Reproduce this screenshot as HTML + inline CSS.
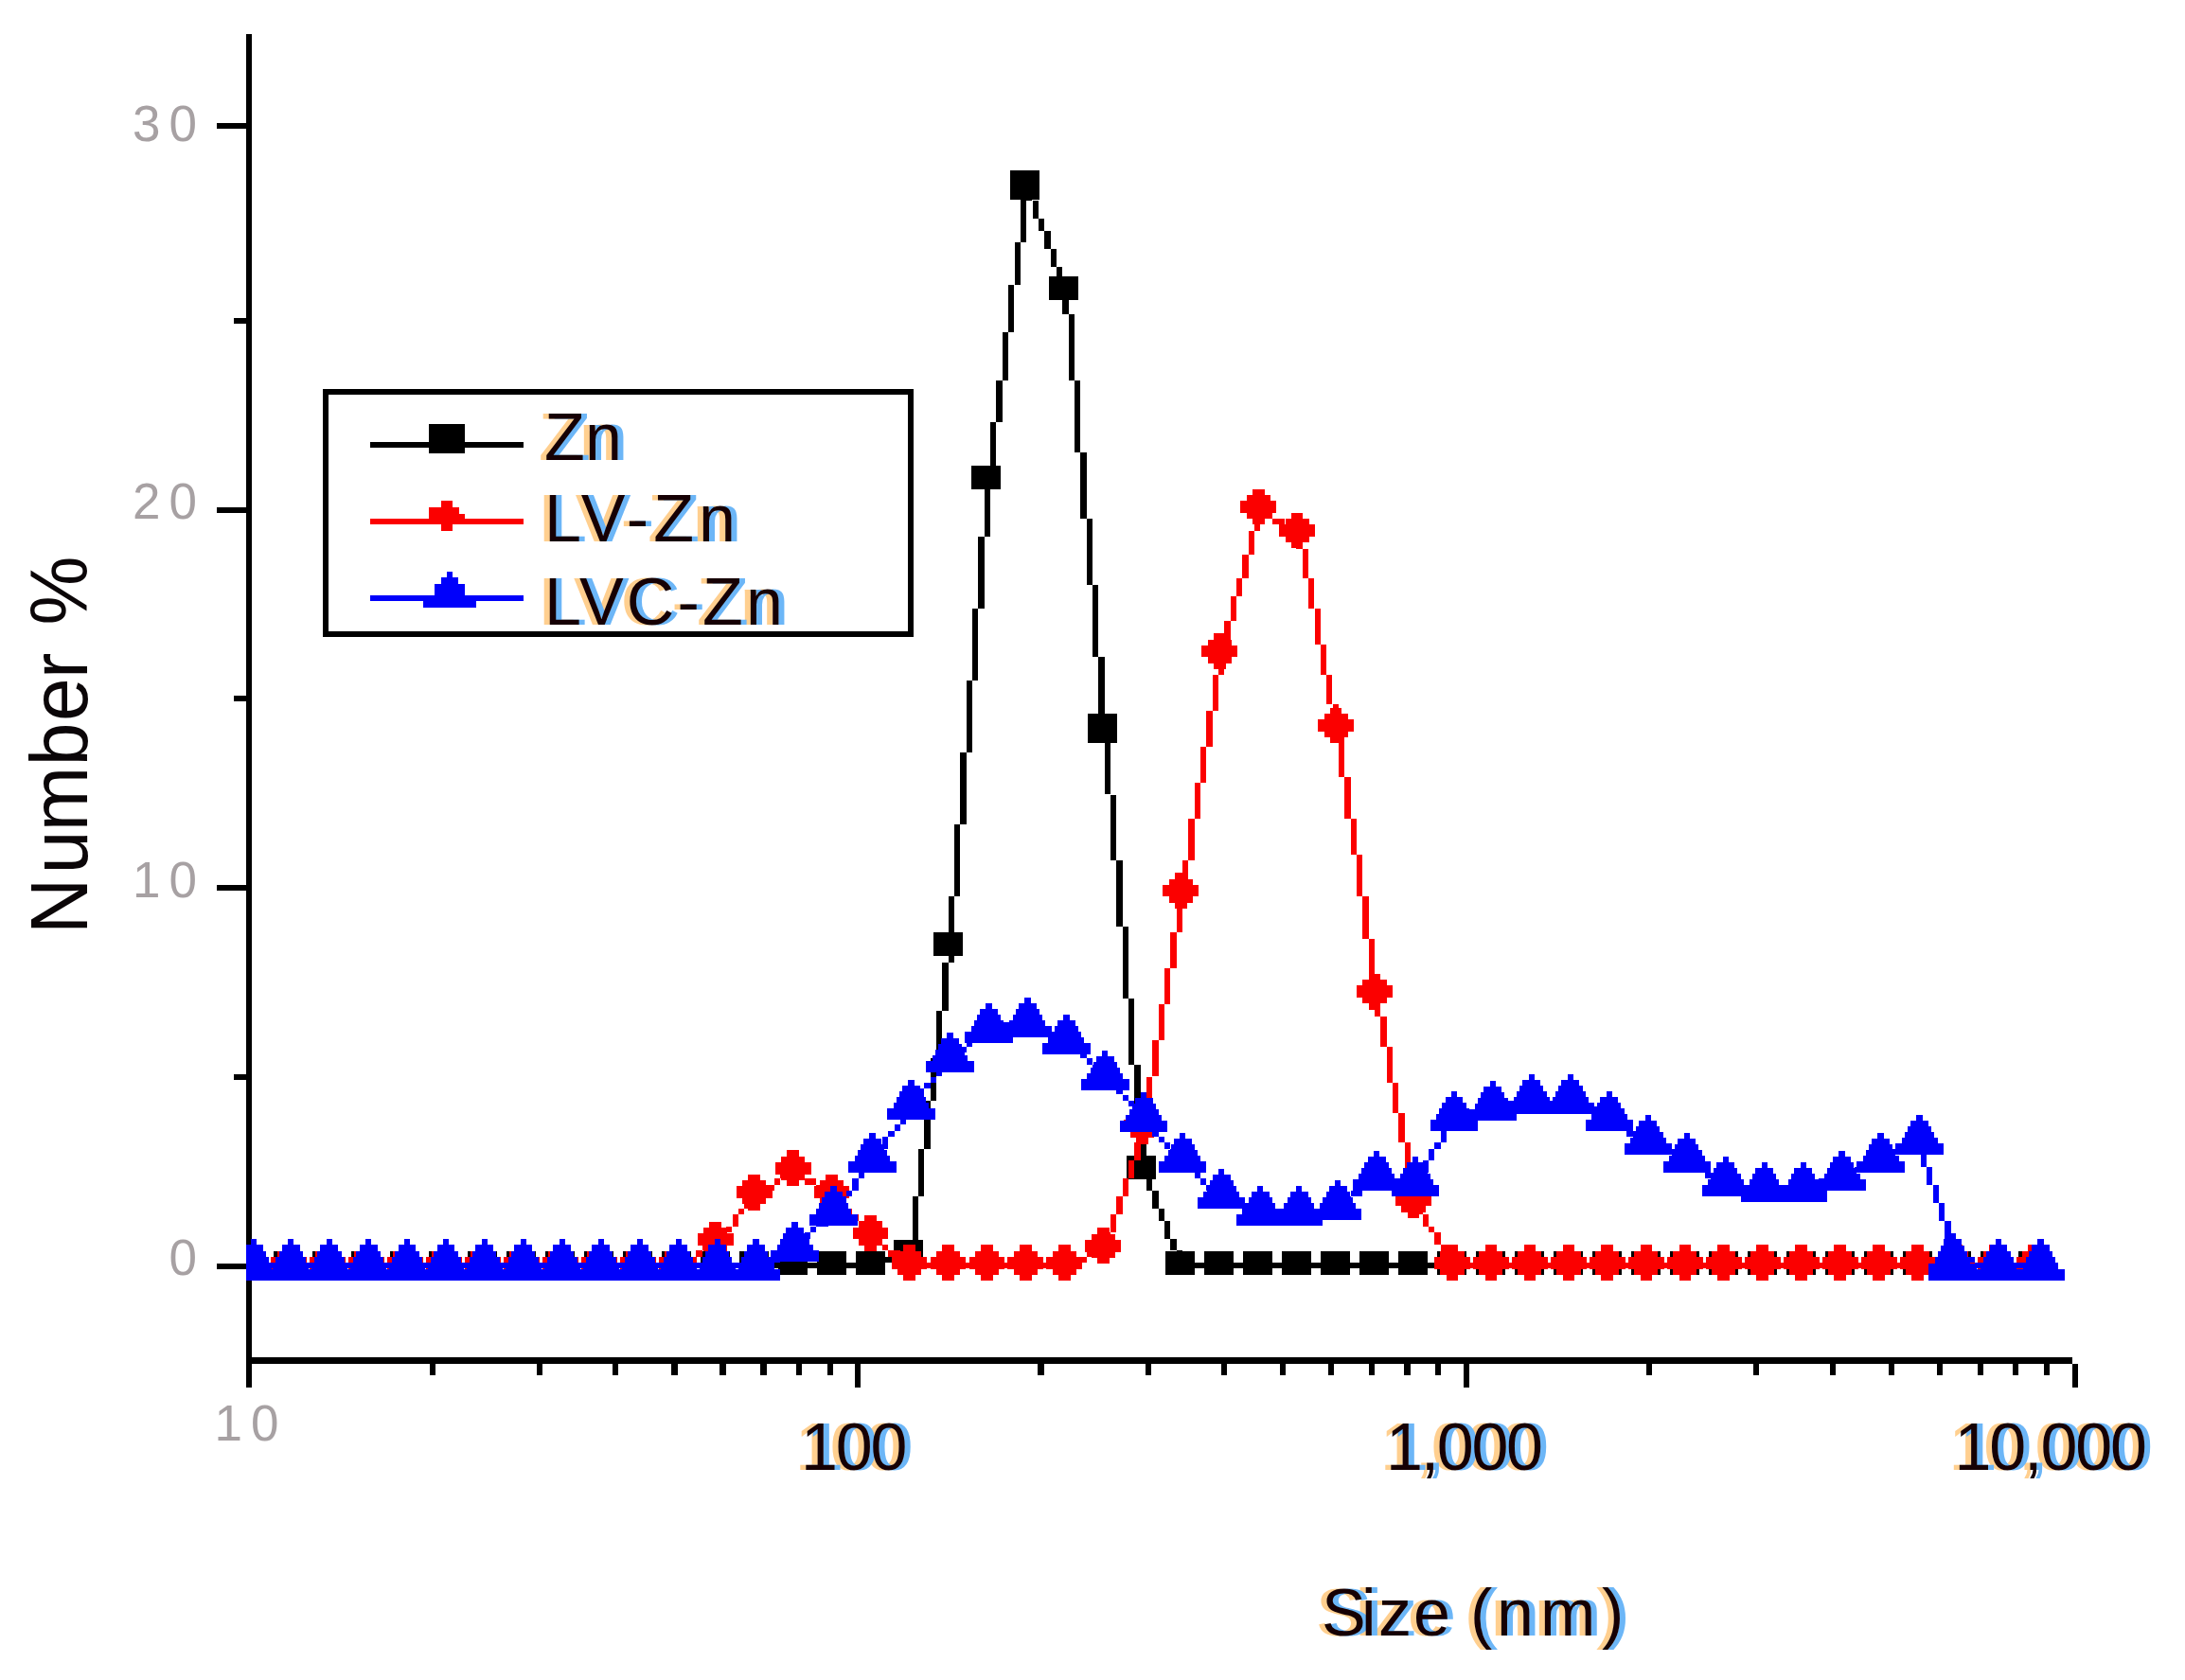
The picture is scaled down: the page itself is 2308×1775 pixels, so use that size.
<!DOCTYPE html>
<html lang="en"><head><meta charset="utf-8"><title>Size distribution by number</title>
<style>html,body{margin:0;padding:0;background:#fff}svg{display:block}text{font-family:"Liberation Sans",Arial,sans-serif}.g{fill:#a7a1a3;font-size:53px;letter-spacing:9px}.k{font-size:70px}</style></head><body>
<svg width="2308" height="1775" viewBox="0 0 2308 1775">
<rect width="2308" height="1775" fill="#fff"/>
<clipPath id="plot"><rect x="260" y="0" width="2048" height="1434"/></clipPath>
<g fill="#000" shape-rendering="crispEdges">
<rect x="260" y="35.7" width="6.2" height="1430.3"/>
<rect x="260" y="1434.4" width="1928.6" height="6.4"/>
<rect x="229" y="129.5" width="31" height="6.4"/>
<rect x="229" y="535.8" width="31" height="6.4"/>
<rect x="229" y="934.8" width="31" height="6.4"/>
<rect x="229" y="1334.5" width="31" height="6.4"/>
<rect x="247" y="335.5" width="13" height="6.4"/>
<rect x="247" y="734.8" width="13" height="6.4"/>
<rect x="247" y="1134.6" width="13" height="6.4"/>
<rect x="453.7" y="1440.8" width="6.2" height="12.4"/>
<rect x="566.8" y="1440.8" width="6.2" height="12.4"/>
<rect x="647.1" y="1440.8" width="6.2" height="12.4"/>
<rect x="709.4" y="1440.8" width="6.2" height="12.4"/>
<rect x="760.3" y="1440.8" width="6.2" height="12.4"/>
<rect x="803.3" y="1440.8" width="6.2" height="12.4"/>
<rect x="840.6" y="1440.8" width="6.2" height="12.4"/>
<rect x="873.5" y="1440.8" width="6.2" height="12.4"/>
<rect x="1096.4" y="1440.8" width="6.2" height="12.4"/>
<rect x="1209.5" y="1440.8" width="6.2" height="12.4"/>
<rect x="1289.8" y="1440.8" width="6.2" height="12.4"/>
<rect x="1352.1" y="1440.8" width="6.2" height="12.4"/>
<rect x="1403" y="1440.8" width="6.2" height="12.4"/>
<rect x="1446" y="1440.8" width="6.2" height="12.4"/>
<rect x="1483.3" y="1440.8" width="6.2" height="12.4"/>
<rect x="1516.2" y="1440.8" width="6.2" height="12.4"/>
<rect x="1739.1" y="1440.8" width="6.2" height="12.4"/>
<rect x="1852.2" y="1440.8" width="6.2" height="12.4"/>
<rect x="1932.5" y="1440.8" width="6.2" height="12.4"/>
<rect x="1994.8" y="1440.8" width="6.2" height="12.4"/>
<rect x="2045.7" y="1440.8" width="6.2" height="12.4"/>
<rect x="2088.7" y="1440.8" width="6.2" height="12.4"/>
<rect x="2126" y="1440.8" width="6.2" height="12.4"/>
<rect x="2158.9" y="1440.8" width="6.2" height="12.4"/>
<rect x="902.9" y="1440.8" width="6.2" height="25.2"/>
<rect x="1545.7" y="1440.8" width="6.2" height="25.2"/>
<rect x="2188.6" y="1440.8" width="6.2" height="25.2"/>
</g>
<g clip-path="url(#plot)" shape-rendering="crispEdges">
<path fill="#000" d="M259.9 1334h50.7v6.3h-50.7zM304.3 1334h44.4v6.3h-44.4zM342.4 1334h50.7v6.3h-50.7zM386.7 1334h44.4v6.3h-44.4zM424.8 1334h50.7v6.3h-50.7zM469.2 1334h44.4v6.3h-44.4zM507.2 1334h50.7v6.3h-50.7zM551.6 1334h44.4v6.3h-44.4zM589.6 1334h50.7v6.3h-50.7zM634 1334h44.4v6.3h-44.4zM672 1334h50.7v6.3h-50.7zM716.4 1334h44.4v6.3h-44.4zM754.5 1334h44.4v6.3h-44.4zM792.5 1334h50.7v6.3h-50.7zM836.9 1334h44.4v6.3h-44.4zM874.9 1334h50.7v6.3h-50.7zM919.3 1334h12.7v6.3h-12.7zM932 1327.7h25.4v6.3h-25.4zM957.3 1321.3h6.3v6.3h-6.3zM957.3 1315h6.3v12.7h-6.3zM963.7 1264.3h6.3v50.7h-6.3zM970 1213.5h6.3v50.7h-6.3zM976.4 1162.8h6.3v50.7h-6.3zM982.7 1118.4h6.3v44.4h-6.3zM989 1067.7h6.3v50.7h-6.3zM995.4 1017h6.3v50.7h-6.3zM1001.7 998h6.3v19h-6.3zM1001.7 947.3h6.3v57.1h-6.3zM1008.1 871.2h6.3v76.1h-6.3zM1014.4 795.1h6.3v76.1h-6.3zM1020.7 719h6.3v76.1h-6.3zM1027.1 642.9h6.3v76.1h-6.3zM1033.4 566.9h6.3v76.1h-6.3zM1039.8 503.5h6.3v63.4h-6.3zM1039.8 497.1h6.3v12.7h-6.3zM1046.1 446.4h6.3v50.7h-6.3zM1052.4 402h6.3v44.4h-6.3zM1058.8 351.3h6.3v50.7h-6.3zM1065.1 300.6h6.3v50.7h-6.3zM1071.5 256.2h6.3v44.4h-6.3zM1077.8 205.5h6.3v50.7h-6.3zM1084.1 192.8h6.3v12.7h-6.3zM1084.1 192.8h6.3v19h-6.3zM1090.5 211.8h6.3v19h-6.3zM1096.8 230.8h6.3v12.7h-6.3zM1103.2 243.5h6.3v19h-6.3zM1109.5 262.5h6.3v19h-6.3zM1115.8 281.6h6.3v12.7h-6.3zM1122.2 294.2h6.3v19h-6.3zM1122.2 306.9h6.3v25.4h-6.3zM1128.5 332.3h6.3v69.7h-6.3zM1134.9 402h6.3v76.1h-6.3zM1141.2 478.1h6.3v69.7h-6.3zM1147.5 547.8h6.3v69.7h-6.3zM1153.9 617.6h6.3v76.1h-6.3zM1160.2 693.7h6.3v69.7h-6.3zM1166.6 763.4h6.3v12.7h-6.3zM1166.6 769.7h6.3v69.7h-6.3zM1172.9 839.5h6.3v69.7h-6.3zM1179.2 909.2h6.3v69.7h-6.3zM1185.6 979h6.3v76.1h-6.3zM1191.9 1055h6.3v69.7h-6.3zM1198.3 1124.8h6.3v69.7h-6.3zM1204.6 1194.5h6.3v44.4h-6.3zM1204.6 1232.6h6.3v12.7h-6.3zM1210.9 1245.2h6.3v12.7h-6.3zM1217.3 1257.9h6.3v19h-6.3zM1223.6 1276.9h6.3v12.7h-6.3zM1230 1289.6h6.3v19h-6.3zM1236.3 1308.6h6.3v12.7h-6.3zM1242.6 1321.3h6.3v12.7h-6.3zM1249 1334h6.3v6.3h-6.3zM1249 1334h44.4v6.3h-44.4zM1287 1334h44.4v6.3h-44.4zM1325.1 1334h50.7v6.3h-50.7zM1369.4 1334h44.4v6.3h-44.4zM1407.5 1334h50.7v6.3h-50.7zM1451.9 1334h44.4v6.3h-44.4zM1489.9 1334h50.7v6.3h-50.7zM1534.3 1334h44.4v6.3h-44.4zM1572.3 1334h50.7v6.3h-50.7zM1616.7 1334h44.4v6.3h-44.4zM1654.7 1334h50.7v6.3h-50.7zM1699.1 1334h44.4v6.3h-44.4zM1737.2 1334h50.7v6.3h-50.7zM1781.5 1334h44.4v6.3h-44.4zM1819.6 1334h44.4v6.3h-44.4zM1857.6 1334h50.7v6.3h-50.7zM1902 1334h44.4v6.3h-44.4zM1940 1334h50.7v6.3h-50.7zM1984.4 1334h44.4v6.3h-44.4zM2022.5 1334h50.7v6.3h-50.7zM2066.8 1334h44.4v6.3h-44.4zM2104.9 1334h50.7v6.3h-50.7z"/>
<rect fill="#000" x="245.3" y="1321.7" width="31" height="25"/>
<rect fill="#000" x="289.1" y="1321.7" width="31" height="25"/>
<rect fill="#000" x="329.9" y="1321.7" width="31" height="25"/>
<rect fill="#000" x="371" y="1321.7" width="31" height="25"/>
<rect fill="#000" x="412" y="1321.7" width="31" height="25"/>
<rect fill="#000" x="452.9" y="1321.7" width="31" height="25"/>
<rect fill="#000" x="493.8" y="1321.7" width="31" height="25"/>
<rect fill="#000" x="534.8" y="1321.7" width="31" height="25"/>
<rect fill="#000" x="575.7" y="1321.7" width="31" height="25"/>
<rect fill="#000" x="616.7" y="1321.7" width="31" height="25"/>
<rect fill="#000" x="657.7" y="1321.7" width="31" height="25"/>
<rect fill="#000" x="698.7" y="1321.7" width="31" height="25"/>
<rect fill="#000" x="739.6" y="1321.7" width="31" height="25"/>
<rect fill="#000" x="780.6" y="1321.7" width="31" height="25"/>
<rect fill="#000" x="821.6" y="1321.7" width="31" height="25"/>
<rect fill="#000" x="862.5" y="1321.7" width="31" height="25"/>
<rect fill="#000" x="903.5" y="1321.7" width="31" height="25"/>
<rect fill="#000" x="944.4" y="1309.7" width="31" height="25"/>
<rect fill="#000" x="985.5" y="985.2" width="31" height="25"/>
<rect fill="#000" x="1026.4" y="492" width="31" height="25"/>
<rect fill="#000" x="1067.3" y="179.8" width="31" height="31"/>
<rect fill="#000" x="1108.3" y="291.6" width="31" height="25"/>
<rect fill="#000" x="1149.3" y="754.1" width="31" height="31"/>
<rect fill="#000" x="1190.2" y="1221.3" width="31" height="25"/>
<rect fill="#000" x="1231.2" y="1321.7" width="31" height="25"/>
<rect fill="#000" x="1272.2" y="1321.7" width="31" height="25"/>
<rect fill="#000" x="1313.2" y="1321.7" width="31" height="25"/>
<rect fill="#000" x="1354.1" y="1321.7" width="31" height="25"/>
<rect fill="#000" x="1395.1" y="1321.7" width="31" height="25"/>
<rect fill="#000" x="1436" y="1321.7" width="31" height="25"/>
<rect fill="#000" x="1477" y="1321.7" width="31" height="25"/>
<rect fill="#000" x="1518" y="1321.7" width="31" height="25"/>
<rect fill="#000" x="1558.8" y="1321.7" width="31" height="25"/>
<rect fill="#000" x="1599.8" y="1321.7" width="31" height="25"/>
<rect fill="#000" x="1640.9" y="1321.7" width="31" height="25"/>
<rect fill="#000" x="1681.7" y="1321.7" width="31" height="25"/>
<rect fill="#000" x="1722.8" y="1321.7" width="31" height="25"/>
<rect fill="#000" x="1763.8" y="1321.7" width="31" height="25"/>
<rect fill="#000" x="1804.7" y="1321.7" width="31" height="25"/>
<rect fill="#000" x="1845.7" y="1321.7" width="31" height="25"/>
<rect fill="#000" x="1886.7" y="1321.7" width="31" height="25"/>
<rect fill="#000" x="1927.6" y="1321.7" width="31" height="25"/>
<rect fill="#000" x="1968.6" y="1321.7" width="31" height="25"/>
<rect fill="#000" x="2009.6" y="1321.7" width="31" height="25"/>
<rect fill="#000" x="2050.5" y="1321.7" width="31" height="25"/>
<rect fill="#000" x="2091.5" y="1321.7" width="31" height="25"/>
<rect fill="#000" x="2132.4" y="1321.7" width="31" height="25"/>
<path fill="#fb0000" d="M259.9 1334h50.7v6.3h-50.7zM304.3 1334h44.4v6.3h-44.4zM342.4 1334h50.7v6.3h-50.7zM386.7 1334h44.4v6.3h-44.4zM424.8 1334h50.7v6.3h-50.7zM469.2 1334h44.4v6.3h-44.4zM507.2 1334h50.7v6.3h-50.7zM551.6 1334h44.4v6.3h-44.4zM589.6 1334h50.7v6.3h-50.7zM634 1334h44.4v6.3h-44.4zM672 1334h50.7v6.3h-50.7zM716.4 1334h6.3v6.3h-6.3zM722.8 1327.7h12.7v6.3h-12.7zM735.4 1321.3h6.3v6.3h-6.3zM741.8 1315h12.7v6.3h-12.7zM754.5 1308.6h6.3v6.3h-6.3zM754.5 1308.6h6.3v6.3h-6.3zM760.8 1302.3h6.3v6.3h-6.3zM767.1 1296h6.3v6.3h-6.3zM773.5 1283.3h6.3v12.7h-6.3zM779.8 1276.9h6.3v6.3h-6.3zM786.2 1270.6h6.3v6.3h-6.3zM792.5 1257.9h6.3v12.7h-6.3zM792.5 1257.9h12.7v6.3h-12.7zM805.2 1251.6h12.7v6.3h-12.7zM817.9 1245.2h6.3v6.3h-6.3zM824.2 1238.9h12.7v6.3h-12.7zM836.9 1232.6h6.3v6.3h-6.3zM836.9 1232.6h6.3v6.3h-6.3zM843.2 1238.9h6.3v6.3h-6.3zM849.6 1245.2h12.7v6.3h-12.7zM862.2 1251.6h12.7v6.3h-12.7zM874.9 1257.9h6.3v6.3h-6.3zM874.9 1257.9h6.3v6.3h-6.3zM881.3 1264.3h6.3v6.3h-6.3zM887.6 1270.6h6.3v6.3h-6.3zM893.9 1276.9h6.3v6.3h-6.3zM900.3 1283.3h6.3v6.3h-6.3zM906.6 1289.6h6.3v6.3h-6.3zM913 1296h6.3v6.3h-6.3zM919.3 1302.3h6.3v6.3h-6.3zM919.3 1302.3h6.3v6.3h-6.3zM925.6 1308.6h6.3v6.3h-6.3zM932 1315h6.3v6.3h-6.3zM938.3 1321.3h12.7v6.3h-12.7zM951 1327.7h6.3v6.3h-6.3zM957.3 1334h6.3v6.3h-6.3zM957.3 1334h50.7v6.3h-50.7zM1001.7 1334h44.4v6.3h-44.4zM1039.8 1334h50.7v6.3h-50.7zM1084.1 1334h44.4v6.3h-44.4zM1122.2 1334h12.7v6.3h-12.7zM1134.9 1327.7h12.7v6.3h-12.7zM1147.5 1321.3h19v6.3h-19zM1166.6 1315h6.3v6.3h-6.3zM1166.6 1302.3h6.3v19h-6.3zM1172.9 1283.3h6.3v19h-6.3zM1179.2 1264.3h6.3v19h-6.3zM1185.6 1245.2h6.3v19h-6.3zM1191.9 1226.2h6.3v19h-6.3zM1198.3 1207.2h6.3v19h-6.3zM1204.6 1188.2h6.3v19h-6.3zM1204.6 1175.5h6.3v19h-6.3zM1210.9 1137.5h6.3v38h-6.3zM1217.3 1099.4h6.3v38h-6.3zM1223.6 1061.4h6.3v38h-6.3zM1230 1023.3h6.3v38h-6.3zM1236.3 985.3h6.3v38h-6.3zM1242.6 947.3h6.3v38h-6.3zM1249 940.9h6.3v6.3h-6.3zM1249 909.2h6.3v38h-6.3zM1255.3 864.8h6.3v44.4h-6.3zM1261.7 826.8h6.3v38h-6.3zM1268 788.8h6.3v38h-6.3zM1274.3 750.7h6.3v38h-6.3zM1280.7 712.7h6.3v38h-6.3zM1287 687.3h6.3v25.4h-6.3zM1287 681h6.3v12.7h-6.3zM1293.4 655.6h6.3v25.4h-6.3zM1299.7 630.3h6.3v25.4h-6.3zM1306 611.2h6.3v19h-6.3zM1312.4 585.9h6.3v25.4h-6.3zM1318.7 560.5h6.3v25.4h-6.3zM1325.1 535.2h6.3v25.4h-6.3zM1325.1 535.2h12.7v6.3h-12.7zM1337.7 541.5h6.3v6.3h-6.3zM1344.1 547.8h12.7v6.3h-12.7zM1356.8 554.2h12.7v6.3h-12.7zM1369.4 560.5h6.3v6.3h-6.3zM1369.4 560.5h6.3v19h-6.3zM1375.8 579.5h6.3v31.7h-6.3zM1382.1 611.2h6.3v31.7h-6.3zM1388.5 642.9h6.3v38h-6.3zM1394.8 681h6.3v31.7h-6.3zM1401.1 712.7h6.3v31.7h-6.3zM1407.5 744.4h6.3v31.7h-6.3zM1407.5 769.7h6.3v6.3h-6.3zM1413.8 776.1h6.3v44.4h-6.3zM1420.2 820.5h6.3v44.4h-6.3zM1426.5 864.8h6.3v38h-6.3zM1432.8 902.9h6.3v44.4h-6.3zM1439.2 947.3h6.3v44.4h-6.3zM1445.5 991.6h6.3v44.4h-6.3zM1451.9 1036h6.3v19h-6.3zM1451.9 1048.7h6.3v25.4h-6.3zM1458.2 1074.1h6.3v31.7h-6.3zM1464.5 1105.8h6.3v38h-6.3zM1470.9 1143.8h6.3v31.7h-6.3zM1477.2 1175.5h6.3v31.7h-6.3zM1483.6 1207.2h6.3v38h-6.3zM1489.9 1245.2h6.3v31.7h-6.3zM1496.2 1270.6h6.3v12.7h-6.3zM1502.6 1283.3h6.3v12.7h-6.3zM1508.9 1296h6.3v6.3h-6.3zM1515.3 1302.3h6.3v12.7h-6.3zM1521.6 1315h6.3v12.7h-6.3zM1527.9 1327.7h6.3v6.3h-6.3zM1534.3 1334h6.3v6.3h-6.3zM1534.3 1334h44.4v6.3h-44.4zM1572.3 1334h50.7v6.3h-50.7zM1616.7 1334h44.4v6.3h-44.4zM1654.7 1334h50.7v6.3h-50.7zM1699.1 1334h44.4v6.3h-44.4zM1737.2 1334h50.7v6.3h-50.7zM1781.5 1334h44.4v6.3h-44.4zM1819.6 1334h44.4v6.3h-44.4zM1857.6 1334h50.7v6.3h-50.7zM1902 1334h44.4v6.3h-44.4zM1940 1334h50.7v6.3h-50.7zM1984.4 1334h44.4v6.3h-44.4zM2022.5 1334h50.7v6.3h-50.7zM2066.8 1334h44.4v6.3h-44.4zM2104.9 1334h50.7v6.3h-50.7z"/>
<polygon fill="#fb0000" points="267.6,1315.4 267.6,1321.7 273.9,1321.7 273.9,1328 280.2,1328 280.2,1334.3 280.2,1334.3 280.2,1340.6 273.9,1340.6 273.9,1346.9 267.6,1346.9 267.6,1353.2 255,1353.2 255,1346.9 248.7,1346.9 248.7,1340.6 242.4,1340.6 242.4,1334.3 242.4,1334.3 242.4,1328 248.7,1328 248.7,1321.7 255,1321.7 255,1315.4"/>
<polygon fill="#fb0000" points="311.4,1315.4 311.4,1321.7 317.7,1321.7 317.7,1328 324,1328 324,1334.3 324,1334.3 324,1340.6 317.7,1340.6 317.7,1346.9 311.4,1346.9 311.4,1353.2 298.8,1353.2 298.8,1346.9 292.5,1346.9 292.5,1340.6 286.2,1340.6 286.2,1334.3 286.2,1334.3 286.2,1328 292.5,1328 292.5,1321.7 298.8,1321.7 298.8,1315.4"/>
<polygon fill="#fb0000" points="352.2,1315.4 352.2,1321.7 358.5,1321.7 358.5,1328 364.8,1328 364.8,1334.3 364.8,1334.3 364.8,1340.6 358.5,1340.6 358.5,1346.9 352.2,1346.9 352.2,1353.2 339.6,1353.2 339.6,1346.9 333.3,1346.9 333.3,1340.6 327,1340.6 327,1334.3 327,1334.3 327,1328 333.3,1328 333.3,1321.7 339.6,1321.7 339.6,1315.4"/>
<polygon fill="#fb0000" points="393.3,1315.4 393.3,1321.7 399.6,1321.7 399.6,1328 405.9,1328 405.9,1334.3 405.9,1334.3 405.9,1340.6 399.6,1340.6 399.6,1346.9 393.3,1346.9 393.3,1353.2 380.7,1353.2 380.7,1346.9 374.4,1346.9 374.4,1340.6 368.1,1340.6 368.1,1334.3 368.1,1334.3 368.1,1328 374.4,1328 374.4,1321.7 380.7,1321.7 380.7,1315.4"/>
<polygon fill="#fb0000" points="434.3,1315.4 434.3,1321.7 440.6,1321.7 440.6,1328 446.9,1328 446.9,1334.3 446.9,1334.3 446.9,1340.6 440.6,1340.6 440.6,1346.9 434.3,1346.9 434.3,1353.2 421.7,1353.2 421.7,1346.9 415.4,1346.9 415.4,1340.6 409.1,1340.6 409.1,1334.3 409.1,1334.3 409.1,1328 415.4,1328 415.4,1321.7 421.7,1321.7 421.7,1315.4"/>
<polygon fill="#fb0000" points="475.2,1315.4 475.2,1321.7 481.5,1321.7 481.5,1328 487.8,1328 487.8,1334.3 487.8,1334.3 487.8,1340.6 481.5,1340.6 481.5,1346.9 475.2,1346.9 475.2,1353.2 462.6,1353.2 462.6,1346.9 456.3,1346.9 456.3,1340.6 450,1340.6 450,1334.3 450,1334.3 450,1328 456.3,1328 456.3,1321.7 462.6,1321.7 462.6,1315.4"/>
<polygon fill="#fb0000" points="516.1,1315.4 516.1,1321.7 522.4,1321.7 522.4,1328 528.7,1328 528.7,1334.3 528.7,1334.3 528.7,1340.6 522.4,1340.6 522.4,1346.9 516.1,1346.9 516.1,1353.2 503.5,1353.2 503.5,1346.9 497.2,1346.9 497.2,1340.6 490.9,1340.6 490.9,1334.3 490.9,1334.3 490.9,1328 497.2,1328 497.2,1321.7 503.5,1321.7 503.5,1315.4"/>
<polygon fill="#fb0000" points="557.1,1315.4 557.1,1321.7 563.4,1321.7 563.4,1328 569.7,1328 569.7,1334.3 569.7,1334.3 569.7,1340.6 563.4,1340.6 563.4,1346.9 557.1,1346.9 557.1,1353.2 544.5,1353.2 544.5,1346.9 538.2,1346.9 538.2,1340.6 531.9,1340.6 531.9,1334.3 531.9,1334.3 531.9,1328 538.2,1328 538.2,1321.7 544.5,1321.7 544.5,1315.4"/>
<polygon fill="#fb0000" points="598,1315.4 598,1321.7 604.3,1321.7 604.3,1328 610.6,1328 610.6,1334.3 610.6,1334.3 610.6,1340.6 604.3,1340.6 604.3,1346.9 598,1346.9 598,1353.2 585.4,1353.2 585.4,1346.9 579.1,1346.9 579.1,1340.6 572.8,1340.6 572.8,1334.3 572.8,1334.3 572.8,1328 579.1,1328 579.1,1321.7 585.4,1321.7 585.4,1315.4"/>
<polygon fill="#fb0000" points="639,1315.4 639,1321.7 645.3,1321.7 645.3,1328 651.6,1328 651.6,1334.3 651.6,1334.3 651.6,1340.6 645.3,1340.6 645.3,1346.9 639,1346.9 639,1353.2 626.4,1353.2 626.4,1346.9 620.1,1346.9 620.1,1340.6 613.8,1340.6 613.8,1334.3 613.8,1334.3 613.8,1328 620.1,1328 620.1,1321.7 626.4,1321.7 626.4,1315.4"/>
<polygon fill="#fb0000" points="680,1315.4 680,1321.7 686.3,1321.7 686.3,1328 692.6,1328 692.6,1334.3 692.6,1334.3 692.6,1340.6 686.3,1340.6 686.3,1346.9 680,1346.9 680,1353.2 667.4,1353.2 667.4,1346.9 661.1,1346.9 661.1,1340.6 654.8,1340.6 654.8,1334.3 654.8,1334.3 654.8,1328 661.1,1328 661.1,1321.7 667.4,1321.7 667.4,1315.4"/>
<polygon fill="#fb0000" points="721,1315.4 721,1321.7 727.3,1321.7 727.3,1328 733.6,1328 733.6,1334.3 733.6,1334.3 733.6,1340.6 727.3,1340.6 727.3,1346.9 721,1346.9 721,1353.2 708.4,1353.2 708.4,1346.9 702.1,1346.9 702.1,1340.6 695.8,1340.6 695.8,1334.3 695.8,1334.3 695.8,1328 702.1,1328 702.1,1321.7 708.4,1321.7 708.4,1315.4"/>
<polygon fill="#fb0000" points="761.9,1290.5 761.9,1296.8 768.2,1296.8 768.2,1303.1 774.5,1303.1 774.5,1309.4 774.5,1309.4 774.5,1315.7 768.2,1315.7 768.2,1322 761.9,1322 761.9,1328.3 749.3,1328.3 749.3,1322 743,1322 743,1315.7 736.7,1315.7 736.7,1309.4 736.7,1309.4 736.7,1303.1 743,1303.1 743,1296.8 749.3,1296.8 749.3,1290.5"/>
<polygon fill="#fb0000" points="802.9,1240.7 802.9,1247 809.2,1247 809.2,1253.3 815.5,1253.3 815.5,1259.6 815.5,1259.6 815.5,1265.9 809.2,1265.9 809.2,1272.2 802.9,1272.2 802.9,1278.5 790.3,1278.5 790.3,1272.2 784,1272.2 784,1265.9 777.7,1265.9 777.7,1259.6 777.7,1259.6 777.7,1253.3 784,1253.3 784,1247 790.3,1247 790.3,1240.7"/>
<polygon fill="#fb0000" points="843.9,1215.4 843.9,1221.7 850.2,1221.7 850.2,1228 856.5,1228 856.5,1234.3 856.5,1234.3 856.5,1240.6 850.2,1240.6 850.2,1246.9 843.9,1246.9 843.9,1253.2 831.3,1253.2 831.3,1246.9 825,1246.9 825,1240.6 818.7,1240.6 818.7,1234.3 818.7,1234.3 818.7,1228 825,1228 825,1221.7 831.3,1221.7 831.3,1215.4"/>
<polygon fill="#fb0000" points="884.8,1240.7 884.8,1247 891.1,1247 891.1,1253.3 897.4,1253.3 897.4,1259.6 897.4,1259.6 897.4,1265.9 891.1,1265.9 891.1,1272.2 884.8,1272.2 884.8,1278.5 872.2,1278.5 872.2,1272.2 865.9,1272.2 865.9,1265.9 859.6,1265.9 859.6,1259.6 859.6,1259.6 859.6,1253.3 865.9,1253.3 865.9,1247 872.2,1247 872.2,1240.7"/>
<polygon fill="#fb0000" points="925.8,1284.1 925.8,1290.4 932.1,1290.4 932.1,1296.7 938.4,1296.7 938.4,1303 938.4,1303 938.4,1309.3 932.1,1309.3 932.1,1315.6 925.8,1315.6 925.8,1321.9 913.2,1321.9 913.2,1315.6 906.9,1315.6 906.9,1309.3 900.6,1309.3 900.6,1303 900.6,1303 900.6,1296.7 906.9,1296.7 906.9,1290.4 913.2,1290.4 913.2,1284.1"/>
<polygon fill="#fb0000" points="966.7,1315.4 966.7,1321.7 973,1321.7 973,1328 979.3,1328 979.3,1334.3 979.3,1334.3 979.3,1340.6 973,1340.6 973,1346.9 966.7,1346.9 966.7,1353.2 954.1,1353.2 954.1,1346.9 947.8,1346.9 947.8,1340.6 941.5,1340.6 941.5,1334.3 941.5,1334.3 941.5,1328 947.8,1328 947.8,1321.7 954.1,1321.7 954.1,1315.4"/>
<polygon fill="#fb0000" points="1007.8,1315.4 1007.8,1321.7 1014.1,1321.7 1014.1,1328 1020.4,1328 1020.4,1334.3 1020.4,1334.3 1020.4,1340.6 1014.1,1340.6 1014.1,1346.9 1007.8,1346.9 1007.8,1353.2 995.2,1353.2 995.2,1346.9 988.9,1346.9 988.9,1340.6 982.6,1340.6 982.6,1334.3 982.6,1334.3 982.6,1328 988.9,1328 988.9,1321.7 995.2,1321.7 995.2,1315.4"/>
<polygon fill="#fb0000" points="1048.7,1315.4 1048.7,1321.7 1055,1321.7 1055,1328 1061.3,1328 1061.3,1334.3 1061.3,1334.3 1061.3,1340.6 1055,1340.6 1055,1346.9 1048.7,1346.9 1048.7,1353.2 1036.1,1353.2 1036.1,1346.9 1029.8,1346.9 1029.8,1340.6 1023.5,1340.6 1023.5,1334.3 1023.5,1334.3 1023.5,1328 1029.8,1328 1029.8,1321.7 1036.1,1321.7 1036.1,1315.4"/>
<polygon fill="#fb0000" points="1089.6,1315.4 1089.6,1321.7 1095.9,1321.7 1095.9,1328 1102.2,1328 1102.2,1334.3 1102.2,1334.3 1102.2,1340.6 1095.9,1340.6 1095.9,1346.9 1089.6,1346.9 1089.6,1353.2 1077,1353.2 1077,1346.9 1070.7,1346.9 1070.7,1340.6 1064.4,1340.6 1064.4,1334.3 1064.4,1334.3 1064.4,1328 1070.7,1328 1070.7,1321.7 1077,1321.7 1077,1315.4"/>
<polygon fill="#fb0000" points="1130.6,1315.4 1130.6,1321.7 1136.9,1321.7 1136.9,1328 1143.2,1328 1143.2,1334.3 1143.2,1334.3 1143.2,1340.6 1136.9,1340.6 1136.9,1346.9 1130.6,1346.9 1130.6,1353.2 1118,1353.2 1118,1346.9 1111.7,1346.9 1111.7,1340.6 1105.4,1340.6 1105.4,1334.3 1105.4,1334.3 1105.4,1328 1111.7,1328 1111.7,1321.7 1118,1321.7 1118,1315.4"/>
<polygon fill="#fb0000" points="1171.6,1297.3 1171.6,1303.6 1177.9,1303.6 1177.9,1309.9 1184.2,1309.9 1184.2,1316.2 1184.2,1316.2 1184.2,1322.5 1177.9,1322.5 1177.9,1328.8 1171.6,1328.8 1171.6,1335.1 1159,1335.1 1159,1328.8 1152.7,1328.8 1152.7,1322.5 1146.4,1322.5 1146.4,1316.2 1146.4,1316.2 1146.4,1309.9 1152.7,1309.9 1152.7,1303.6 1159,1303.6 1159,1297.3"/>
<polygon fill="#fb0000" points="1212.5,1170.8 1212.5,1177.1 1218.8,1177.1 1218.8,1183.4 1225.1,1183.4 1225.1,1189.7 1225.1,1189.7 1225.1,1196 1218.8,1196 1218.8,1202.3 1212.5,1202.3 1212.5,1208.6 1199.9,1208.6 1199.9,1202.3 1193.6,1202.3 1193.6,1196 1187.3,1196 1187.3,1189.7 1187.3,1189.7 1187.3,1183.4 1193.6,1183.4 1193.6,1177.1 1199.9,1177.1 1199.9,1170.8"/>
<polygon fill="#fb0000" points="1253.5,922.2 1253.5,928.5 1259.8,928.5 1259.8,934.8 1266.1,934.8 1266.1,941.1 1266.1,941.1 1266.1,947.4 1259.8,947.4 1259.8,953.7 1253.5,953.7 1253.5,960 1240.9,960 1240.9,953.7 1234.6,953.7 1234.6,947.4 1228.3,947.4 1228.3,941.1 1228.3,941.1 1228.3,934.8 1234.6,934.8 1234.6,928.5 1240.9,928.5 1240.9,922.2"/>
<polygon fill="#fb0000" points="1294.5,669.2 1294.5,675.5 1300.8,675.5 1300.8,681.8 1307.1,681.8 1307.1,688.1 1307.1,688.1 1307.1,694.4 1300.8,694.4 1300.8,700.7 1294.5,700.7 1294.5,707 1281.9,707 1281.9,700.7 1275.6,700.7 1275.6,694.4 1269.3,694.4 1269.3,688.1 1269.3,688.1 1269.3,681.8 1275.6,681.8 1275.6,675.5 1281.9,675.5 1281.9,669.2"/>
<polygon fill="#fb0000" points="1335.5,516.6 1335.5,522.9 1341.8,522.9 1341.8,529.2 1348.1,529.2 1348.1,535.5 1348.1,535.5 1348.1,541.8 1341.8,541.8 1341.8,548.1 1335.5,548.1 1335.5,554.4 1322.9,554.4 1322.9,548.1 1316.6,548.1 1316.6,541.8 1310.3,541.8 1310.3,535.5 1310.3,535.5 1310.3,529.2 1316.6,529.2 1316.6,522.9 1322.9,522.9 1322.9,516.6"/>
<polygon fill="#fb0000" points="1376.4,541.5 1376.4,547.8 1382.7,547.8 1382.7,554.1 1389,554.1 1389,560.4 1389,560.4 1389,566.7 1382.7,566.7 1382.7,573 1376.4,573 1376.4,579.3 1363.8,579.3 1363.8,573 1357.5,573 1357.5,566.7 1351.2,566.7 1351.2,560.4 1351.2,560.4 1351.2,554.1 1357.5,554.1 1357.5,547.8 1363.8,547.8 1363.8,541.5"/>
<polygon fill="#fb0000" points="1417.4,747.5 1417.4,753.8 1423.7,753.8 1423.7,760.1 1430,760.1 1430,766.4 1430,766.4 1430,772.7 1423.7,772.7 1423.7,779 1417.4,779 1417.4,785.3 1404.8,785.3 1404.8,779 1398.5,779 1398.5,772.7 1392.2,772.7 1392.2,766.4 1392.2,766.4 1392.2,760.1 1398.5,760.1 1398.5,753.8 1404.8,753.8 1404.8,747.5"/>
<polygon fill="#fb0000" points="1458.3,1028.7 1458.3,1035 1464.6,1035 1464.6,1041.3 1470.9,1041.3 1470.9,1047.6 1470.9,1047.6 1470.9,1053.9 1464.6,1053.9 1464.6,1060.2 1458.3,1060.2 1458.3,1066.5 1445.7,1066.5 1445.7,1060.2 1439.4,1060.2 1439.4,1053.9 1433.1,1053.9 1433.1,1047.6 1433.1,1047.6 1433.1,1041.3 1439.4,1041.3 1439.4,1035 1445.7,1035 1445.7,1028.7"/>
<polygon fill="#fb0000" points="1499.3,1249.1 1499.3,1255.4 1505.6,1255.4 1505.6,1261.7 1511.9,1261.7 1511.9,1268 1511.9,1268 1511.9,1274.3 1505.6,1274.3 1505.6,1280.6 1499.3,1280.6 1499.3,1286.9 1486.7,1286.9 1486.7,1280.6 1480.4,1280.6 1480.4,1274.3 1474.1,1274.3 1474.1,1268 1474.1,1268 1474.1,1261.7 1480.4,1261.7 1480.4,1255.4 1486.7,1255.4 1486.7,1249.1"/>
<polygon fill="#fb0000" points="1540.3,1315.4 1540.3,1321.7 1546.6,1321.7 1546.6,1328 1552.9,1328 1552.9,1334.3 1552.9,1334.3 1552.9,1340.6 1546.6,1340.6 1546.6,1346.9 1540.3,1346.9 1540.3,1353.2 1527.7,1353.2 1527.7,1346.9 1521.4,1346.9 1521.4,1340.6 1515.1,1340.6 1515.1,1334.3 1515.1,1334.3 1515.1,1328 1521.4,1328 1521.4,1321.7 1527.7,1321.7 1527.7,1315.4"/>
<polygon fill="#fb0000" points="1581.1,1315.4 1581.1,1321.7 1587.4,1321.7 1587.4,1328 1593.7,1328 1593.7,1334.3 1593.7,1334.3 1593.7,1340.6 1587.4,1340.6 1587.4,1346.9 1581.1,1346.9 1581.1,1353.2 1568.5,1353.2 1568.5,1346.9 1562.2,1346.9 1562.2,1340.6 1555.9,1340.6 1555.9,1334.3 1555.9,1334.3 1555.9,1328 1562.2,1328 1562.2,1321.7 1568.5,1321.7 1568.5,1315.4"/>
<polygon fill="#fb0000" points="1622.1,1315.4 1622.1,1321.7 1628.4,1321.7 1628.4,1328 1634.7,1328 1634.7,1334.3 1634.7,1334.3 1634.7,1340.6 1628.4,1340.6 1628.4,1346.9 1622.1,1346.9 1622.1,1353.2 1609.5,1353.2 1609.5,1346.9 1603.2,1346.9 1603.2,1340.6 1596.9,1340.6 1596.9,1334.3 1596.9,1334.3 1596.9,1328 1603.2,1328 1603.2,1321.7 1609.5,1321.7 1609.5,1315.4"/>
<polygon fill="#fb0000" points="1663.2,1315.4 1663.2,1321.7 1669.5,1321.7 1669.5,1328 1675.8,1328 1675.8,1334.3 1675.8,1334.3 1675.8,1340.6 1669.5,1340.6 1669.5,1346.9 1663.2,1346.9 1663.2,1353.2 1650.6,1353.2 1650.6,1346.9 1644.3,1346.9 1644.3,1340.6 1638,1340.6 1638,1334.3 1638,1334.3 1638,1328 1644.3,1328 1644.3,1321.7 1650.6,1321.7 1650.6,1315.4"/>
<polygon fill="#fb0000" points="1704,1315.4 1704,1321.7 1710.3,1321.7 1710.3,1328 1716.6,1328 1716.6,1334.3 1716.6,1334.3 1716.6,1340.6 1710.3,1340.6 1710.3,1346.9 1704,1346.9 1704,1353.2 1691.4,1353.2 1691.4,1346.9 1685.1,1346.9 1685.1,1340.6 1678.8,1340.6 1678.8,1334.3 1678.8,1334.3 1678.8,1328 1685.1,1328 1685.1,1321.7 1691.4,1321.7 1691.4,1315.4"/>
<polygon fill="#fb0000" points="1745.1,1315.4 1745.1,1321.7 1751.4,1321.7 1751.4,1328 1757.7,1328 1757.7,1334.3 1757.7,1334.3 1757.7,1340.6 1751.4,1340.6 1751.4,1346.9 1745.1,1346.9 1745.1,1353.2 1732.5,1353.2 1732.5,1346.9 1726.2,1346.9 1726.2,1340.6 1719.9,1340.6 1719.9,1334.3 1719.9,1334.3 1719.9,1328 1726.2,1328 1726.2,1321.7 1732.5,1321.7 1732.5,1315.4"/>
<polygon fill="#fb0000" points="1786.1,1315.4 1786.1,1321.7 1792.4,1321.7 1792.4,1328 1798.7,1328 1798.7,1334.3 1798.7,1334.3 1798.7,1340.6 1792.4,1340.6 1792.4,1346.9 1786.1,1346.9 1786.1,1353.2 1773.5,1353.2 1773.5,1346.9 1767.2,1346.9 1767.2,1340.6 1760.9,1340.6 1760.9,1334.3 1760.9,1334.3 1760.9,1328 1767.2,1328 1767.2,1321.7 1773.5,1321.7 1773.5,1315.4"/>
<polygon fill="#fb0000" points="1827,1315.4 1827,1321.7 1833.3,1321.7 1833.3,1328 1839.6,1328 1839.6,1334.3 1839.6,1334.3 1839.6,1340.6 1833.3,1340.6 1833.3,1346.9 1827,1346.9 1827,1353.2 1814.4,1353.2 1814.4,1346.9 1808.1,1346.9 1808.1,1340.6 1801.8,1340.6 1801.8,1334.3 1801.8,1334.3 1801.8,1328 1808.1,1328 1808.1,1321.7 1814.4,1321.7 1814.4,1315.4"/>
<polygon fill="#fb0000" points="1868,1315.4 1868,1321.7 1874.3,1321.7 1874.3,1328 1880.6,1328 1880.6,1334.3 1880.6,1334.3 1880.6,1340.6 1874.3,1340.6 1874.3,1346.9 1868,1346.9 1868,1353.2 1855.4,1353.2 1855.4,1346.9 1849.1,1346.9 1849.1,1340.6 1842.8,1340.6 1842.8,1334.3 1842.8,1334.3 1842.8,1328 1849.1,1328 1849.1,1321.7 1855.4,1321.7 1855.4,1315.4"/>
<polygon fill="#fb0000" points="1909,1315.4 1909,1321.7 1915.3,1321.7 1915.3,1328 1921.6,1328 1921.6,1334.3 1921.6,1334.3 1921.6,1340.6 1915.3,1340.6 1915.3,1346.9 1909,1346.9 1909,1353.2 1896.4,1353.2 1896.4,1346.9 1890.1,1346.9 1890.1,1340.6 1883.8,1340.6 1883.8,1334.3 1883.8,1334.3 1883.8,1328 1890.1,1328 1890.1,1321.7 1896.4,1321.7 1896.4,1315.4"/>
<polygon fill="#fb0000" points="1949.9,1315.4 1949.9,1321.7 1956.2,1321.7 1956.2,1328 1962.5,1328 1962.5,1334.3 1962.5,1334.3 1962.5,1340.6 1956.2,1340.6 1956.2,1346.9 1949.9,1346.9 1949.9,1353.2 1937.3,1353.2 1937.3,1346.9 1931,1346.9 1931,1340.6 1924.7,1340.6 1924.7,1334.3 1924.7,1334.3 1924.7,1328 1931,1328 1931,1321.7 1937.3,1321.7 1937.3,1315.4"/>
<polygon fill="#fb0000" points="1990.9,1315.4 1990.9,1321.7 1997.2,1321.7 1997.2,1328 2003.5,1328 2003.5,1334.3 2003.5,1334.3 2003.5,1340.6 1997.2,1340.6 1997.2,1346.9 1990.9,1346.9 1990.9,1353.2 1978.3,1353.2 1978.3,1346.9 1972,1346.9 1972,1340.6 1965.7,1340.6 1965.7,1334.3 1965.7,1334.3 1965.7,1328 1972,1328 1972,1321.7 1978.3,1321.7 1978.3,1315.4"/>
<polygon fill="#fb0000" points="2031.9,1315.4 2031.9,1321.7 2038.2,1321.7 2038.2,1328 2044.5,1328 2044.5,1334.3 2044.5,1334.3 2044.5,1340.6 2038.2,1340.6 2038.2,1346.9 2031.9,1346.9 2031.9,1353.2 2019.3,1353.2 2019.3,1346.9 2013,1346.9 2013,1340.6 2006.7,1340.6 2006.7,1334.3 2006.7,1334.3 2006.7,1328 2013,1328 2013,1321.7 2019.3,1321.7 2019.3,1315.4"/>
<polygon fill="#fb0000" points="2072.8,1315.4 2072.8,1321.7 2079.1,1321.7 2079.1,1328 2085.4,1328 2085.4,1334.3 2085.4,1334.3 2085.4,1340.6 2079.1,1340.6 2079.1,1346.9 2072.8,1346.9 2072.8,1353.2 2060.2,1353.2 2060.2,1346.9 2053.9,1346.9 2053.9,1340.6 2047.6,1340.6 2047.6,1334.3 2047.6,1334.3 2047.6,1328 2053.9,1328 2053.9,1321.7 2060.2,1321.7 2060.2,1315.4"/>
<polygon fill="#fb0000" points="2113.8,1315.4 2113.8,1321.7 2120.1,1321.7 2120.1,1328 2126.4,1328 2126.4,1334.3 2126.4,1334.3 2126.4,1340.6 2120.1,1340.6 2120.1,1346.9 2113.8,1346.9 2113.8,1353.2 2101.2,1353.2 2101.2,1346.9 2094.9,1346.9 2094.9,1340.6 2088.6,1340.6 2088.6,1334.3 2088.6,1334.3 2088.6,1328 2094.9,1328 2094.9,1321.7 2101.2,1321.7 2101.2,1315.4"/>
<polygon fill="#fb0000" points="2154.7,1315.4 2154.7,1321.7 2161,1321.7 2161,1328 2167.3,1328 2167.3,1334.3 2167.3,1334.3 2167.3,1340.6 2161,1340.6 2161,1346.9 2154.7,1346.9 2154.7,1353.2 2142.1,1353.2 2142.1,1346.9 2135.8,1346.9 2135.8,1340.6 2129.5,1340.6 2129.5,1334.3 2129.5,1334.3 2129.5,1328 2135.8,1328 2135.8,1321.7 2142.1,1321.7 2142.1,1315.4"/>
<path fill="#0000fb" d="M259.9 1334h50.7v6.3h-50.7zM304.3 1334h44.4v6.3h-44.4zM342.4 1334h50.7v6.3h-50.7zM386.7 1334h44.4v6.3h-44.4zM424.8 1334h50.7v6.3h-50.7zM469.2 1334h44.4v6.3h-44.4zM507.2 1334h50.7v6.3h-50.7zM551.6 1334h44.4v6.3h-44.4zM589.6 1334h50.7v6.3h-50.7zM634 1334h44.4v6.3h-44.4zM672 1334h50.7v6.3h-50.7zM716.4 1334h44.4v6.3h-44.4zM754.5 1334h44.4v6.3h-44.4zM792.5 1334h12.7v6.3h-12.7zM805.2 1327.7h19v6.3h-19zM824.2 1321.3h12.7v6.3h-12.7zM836.9 1315h6.3v6.3h-6.3zM836.9 1315h6.3v6.3h-6.3zM843.2 1308.6h6.3v6.3h-6.3zM849.6 1302.3h6.3v6.3h-6.3zM855.9 1296h6.3v6.3h-6.3zM862.2 1289.6h12.7v6.3h-12.7zM874.9 1283.3h6.3v6.3h-6.3zM881.3 1270.6h6.3v12.7h-6.3zM887.6 1264.3h6.3v6.3h-6.3zM893.9 1257.9h6.3v6.3h-6.3zM900.3 1245.2h6.3v12.7h-6.3zM906.6 1238.9h6.3v6.3h-6.3zM913 1226.2h6.3v12.7h-6.3zM919.3 1219.9h6.3v6.3h-6.3zM919.3 1219.9h6.3v6.3h-6.3zM925.6 1213.5h6.3v6.3h-6.3zM932 1200.9h6.3v12.7h-6.3zM938.3 1194.5h6.3v6.3h-6.3zM944.7 1188.2h6.3v6.3h-6.3zM951 1175.5h6.3v12.7h-6.3zM957.3 1169.2h6.3v6.3h-6.3zM957.3 1169.2h6.3v6.3h-6.3zM963.7 1162.8h6.3v6.3h-6.3zM970 1150.1h6.3v12.7h-6.3zM976.4 1143.8h6.3v6.3h-6.3zM982.7 1137.5h6.3v6.3h-6.3zM989 1131.1h6.3v6.3h-6.3zM995.4 1124.8h6.3v6.3h-6.3zM1001.7 1118.4h6.3v6.3h-6.3zM1001.7 1118.4h6.3v6.3h-6.3zM1008.1 1112.1h6.3v6.3h-6.3zM1014.4 1105.8h6.3v6.3h-6.3zM1020.7 1099.4h6.3v6.3h-6.3zM1027.1 1093.1h12.7v6.3h-12.7zM1039.8 1086.7h6.3v6.3h-6.3zM1039.8 1086.7h19v6.3h-19zM1058.8 1080.4h31.7v6.3h-31.7zM1084.1 1080.4h12.7v6.3h-12.7zM1096.8 1086.7h12.7v6.3h-12.7zM1109.5 1093.1h12.7v6.3h-12.7zM1122.2 1099.4h6.3v6.3h-6.3zM1122.2 1099.4h12.7v6.3h-12.7zM1134.9 1105.8h6.3v6.3h-6.3zM1141.2 1112.1h6.3v6.3h-6.3zM1147.5 1118.4h6.3v6.3h-6.3zM1153.9 1124.8h6.3v6.3h-6.3zM1160.2 1131.1h6.3v6.3h-6.3zM1166.6 1137.5h6.3v6.3h-6.3zM1166.6 1137.5h6.3v6.3h-6.3zM1172.9 1143.8h6.3v6.3h-6.3zM1179.2 1150.1h6.3v6.3h-6.3zM1185.6 1156.5h6.3v6.3h-6.3zM1191.9 1162.8h6.3v6.3h-6.3zM1198.3 1169.2h6.3v6.3h-6.3zM1204.6 1175.5h6.3v12.7h-6.3zM1204.6 1181.8h6.3v6.3h-6.3zM1210.9 1188.2h6.3v6.3h-6.3zM1217.3 1194.5h6.3v6.3h-6.3zM1223.6 1200.9h6.3v6.3h-6.3zM1230 1207.2h6.3v6.3h-6.3zM1236.3 1213.5h6.3v6.3h-6.3zM1242.6 1219.9h6.3v6.3h-6.3zM1249 1226.2h6.3v6.3h-6.3zM1255.3 1232.6h6.3v6.3h-6.3zM1261.7 1238.9h6.3v6.3h-6.3zM1268 1245.2h6.3v6.3h-6.3zM1274.3 1251.6h6.3v6.3h-6.3zM1280.7 1257.9h12.7v6.3h-12.7zM1287 1257.9h6.3v6.3h-6.3zM1293.4 1264.3h12.7v6.3h-12.7zM1306 1270.6h12.7v6.3h-12.7zM1318.7 1276.9h12.7v6.3h-12.7zM1325.1 1276.9h50.7v6.3h-50.7zM1369.4 1276.9h38v6.3h-38zM1407.5 1270.6h6.3v6.3h-6.3zM1407.5 1270.6h12.7v6.3h-12.7zM1420.2 1264.3h6.3v6.3h-6.3zM1426.5 1257.9h12.7v6.3h-12.7zM1439.2 1251.6h6.3v6.3h-6.3zM1445.5 1245.2h6.3v6.3h-6.3zM1451.9 1238.9h6.3v6.3h-6.3zM1451.9 1238.9h6.3v6.3h-6.3zM1458.2 1245.2h38v6.3h-38zM1496.2 1238.9h6.3v12.7h-6.3zM1502.6 1226.2h6.3v12.7h-6.3zM1508.9 1213.5h6.3v12.7h-6.3zM1515.3 1207.2h6.3v6.3h-6.3zM1521.6 1194.5h6.3v12.7h-6.3zM1527.9 1181.8h6.3v12.7h-6.3zM1534.3 1175.5h6.3v6.3h-6.3zM1534.3 1175.5h25.4v6.3h-25.4zM1559.6 1169.2h19v6.3h-19zM1572.3 1169.2h12.7v6.3h-12.7zM1585 1162.8h38v6.3h-38zM1616.7 1162.8h44.4v6.3h-44.4zM1654.7 1162.8h19v6.3h-19zM1673.8 1169.2h12.7v6.3h-12.7zM1686.4 1175.5h19v6.3h-19zM1699.1 1181.8h12.7v6.3h-12.7zM1711.8 1188.2h6.3v6.3h-6.3zM1718.1 1194.5h12.7v6.3h-12.7zM1730.8 1200.9h12.7v6.3h-12.7zM1737.2 1200.9h6.3v6.3h-6.3zM1743.5 1207.2h12.7v6.3h-12.7zM1756.2 1213.5h12.7v6.3h-12.7zM1768.9 1219.9h19v6.3h-19zM1781.5 1226.2h12.7v6.3h-12.7zM1794.2 1232.6h6.3v6.3h-6.3zM1800.6 1238.9h12.7v6.3h-12.7zM1813.2 1245.2h12.7v6.3h-12.7zM1819.6 1245.2h12.7v6.3h-12.7zM1832.3 1251.6h31.7v6.3h-31.7zM1857.6 1251.6h50.7v6.3h-50.7zM1902 1251.6h19v6.3h-19zM1921 1245.2h19v6.3h-19zM1940 1238.9h6.3v6.3h-6.3zM1940 1238.9h19v6.3h-19zM1959.1 1232.6h12.7v6.3h-12.7zM1971.7 1226.2h12.7v6.3h-12.7zM1984.4 1219.9h6.3v6.3h-6.3zM1984.4 1219.9h12.7v6.3h-12.7zM1997.1 1213.5h12.7v6.3h-12.7zM2009.8 1207.2h19v6.3h-19zM2022.5 1200.9h6.3v12.7h-6.3zM2028.8 1213.5h6.3v19h-6.3zM2035.1 1232.6h6.3v19h-6.3zM2041.5 1251.6h6.3v19h-6.3zM2047.8 1270.6h6.3v19h-6.3zM2054.2 1289.6h6.3v19h-6.3zM2060.5 1308.6h6.3v19h-6.3zM2066.8 1327.7h6.3v6.3h-6.3zM2066.8 1327.7h19v6.3h-19zM2085.9 1334h25.4v6.3h-25.4zM2104.9 1334h50.7v6.3h-50.7z"/>
<polygon fill="#0000fb" points="271.4,1309 271.4,1315.3 277.8,1315.3 277.8,1321.6 280.9,1321.6 280.9,1327.9 284.1,1327.9 284.1,1334.2 287.2,1334.2 287.2,1340.5 293.5,1340.5 293.5,1346.8 293.5,1346.8 293.5,1353.1 243.1,1353.1 243.1,1346.8 243.1,1346.8 243.1,1340.5 249.4,1340.5 249.4,1334.2 252.6,1334.2 252.6,1327.9 255.7,1327.9 255.7,1321.6 258.9,1321.6 258.9,1315.3 265.2,1315.3 265.2,1309"/>
<polygon fill="#0000fb" points="310.3,1309 310.3,1315.3 316.6,1315.3 316.6,1321.6 319.7,1321.6 319.7,1327.9 322.9,1327.9 322.9,1334.2 326,1334.2 326,1340.5 332.3,1340.5 332.3,1346.8 332.3,1346.8 332.3,1353.1 281.9,1353.1 281.9,1346.8 281.9,1346.8 281.9,1340.5 288.2,1340.5 288.2,1334.2 291.4,1334.2 291.4,1327.9 294.5,1327.9 294.5,1321.6 297.7,1321.6 297.7,1315.3 304,1315.3 304,1309"/>
<polygon fill="#0000fb" points="351,1309 351,1315.3 357.3,1315.3 357.3,1321.6 360.5,1321.6 360.5,1327.9 363.6,1327.9 363.6,1334.2 366.8,1334.2 366.8,1340.5 373.1,1340.5 373.1,1346.8 373.1,1346.8 373.1,1353.1 322.7,1353.1 322.7,1346.8 322.7,1346.8 322.7,1340.5 329,1340.5 329,1334.2 332.1,1334.2 332.1,1327.9 335.3,1327.9 335.3,1321.6 338.4,1321.6 338.4,1315.3 344.7,1315.3 344.7,1309"/>
<polygon fill="#0000fb" points="392.2,1309 392.2,1315.3 398.5,1315.3 398.5,1321.6 401.6,1321.6 401.6,1327.9 404.8,1327.9 404.8,1334.2 407.9,1334.2 407.9,1340.5 414.2,1340.5 414.2,1346.8 414.2,1346.8 414.2,1353.1 363.8,1353.1 363.8,1346.8 363.8,1346.8 363.8,1340.5 370.1,1340.5 370.1,1334.2 373.3,1334.2 373.3,1327.9 376.4,1327.9 376.4,1321.6 379.6,1321.6 379.6,1315.3 385.9,1315.3 385.9,1309"/>
<polygon fill="#0000fb" points="433.1,1309 433.1,1315.3 439.4,1315.3 439.4,1321.6 442.6,1321.6 442.6,1327.9 445.7,1327.9 445.7,1334.2 448.9,1334.2 448.9,1340.5 455.2,1340.5 455.2,1346.8 455.2,1346.8 455.2,1353.1 404.8,1353.1 404.8,1346.8 404.8,1346.8 404.8,1340.5 411.1,1340.5 411.1,1334.2 414.2,1334.2 414.2,1327.9 417.4,1327.9 417.4,1321.6 420.5,1321.6 420.5,1315.3 426.8,1315.3 426.8,1309"/>
<polygon fill="#0000fb" points="474.1,1309 474.1,1315.3 480.4,1315.3 480.4,1321.6 483.5,1321.6 483.5,1327.9 486.7,1327.9 486.7,1334.2 489.8,1334.2 489.8,1340.5 496.1,1340.5 496.1,1346.8 496.1,1346.8 496.1,1353.1 445.7,1353.1 445.7,1346.8 445.7,1346.8 445.7,1340.5 452,1340.5 452,1334.2 455.2,1334.2 455.2,1327.9 458.3,1327.9 458.3,1321.6 461.5,1321.6 461.5,1315.3 467.8,1315.3 467.8,1309"/>
<polygon fill="#0000fb" points="515,1309 515,1315.3 521.3,1315.3 521.3,1321.6 524.4,1321.6 524.4,1327.9 527.6,1327.9 527.6,1334.2 530.7,1334.2 530.7,1340.5 537,1340.5 537,1346.8 537,1346.8 537,1353.1 486.6,1353.1 486.6,1346.8 486.6,1346.8 486.6,1340.5 492.9,1340.5 492.9,1334.2 496.1,1334.2 496.1,1327.9 499.2,1327.9 499.2,1321.6 502.4,1321.6 502.4,1315.3 508.7,1315.3 508.7,1309"/>
<polygon fill="#0000fb" points="555.9,1309 555.9,1315.3 562.2,1315.3 562.2,1321.6 565.4,1321.6 565.4,1327.9 568.5,1327.9 568.5,1334.2 571.7,1334.2 571.7,1340.5 578,1340.5 578,1346.8 578,1346.8 578,1353.1 527.6,1353.1 527.6,1346.8 527.6,1346.8 527.6,1340.5 533.9,1340.5 533.9,1334.2 537,1334.2 537,1327.9 540.2,1327.9 540.2,1321.6 543.3,1321.6 543.3,1315.3 549.6,1315.3 549.6,1309"/>
<polygon fill="#0000fb" points="596.9,1309 596.9,1315.3 603.2,1315.3 603.2,1321.6 606.3,1321.6 606.3,1327.9 609.5,1327.9 609.5,1334.2 612.6,1334.2 612.6,1340.5 618.9,1340.5 618.9,1346.8 618.9,1346.8 618.9,1353.1 568.5,1353.1 568.5,1346.8 568.5,1346.8 568.5,1340.5 574.8,1340.5 574.8,1334.2 578,1334.2 578,1327.9 581.1,1327.9 581.1,1321.6 584.3,1321.6 584.3,1315.3 590.6,1315.3 590.6,1309"/>
<polygon fill="#0000fb" points="637.9,1309 637.9,1315.3 644.2,1315.3 644.2,1321.6 647.3,1321.6 647.3,1327.9 650.5,1327.9 650.5,1334.2 653.6,1334.2 653.6,1340.5 659.9,1340.5 659.9,1346.8 659.9,1346.8 659.9,1353.1 609.5,1353.1 609.5,1346.8 609.5,1346.8 609.5,1340.5 615.8,1340.5 615.8,1334.2 619,1334.2 619,1327.9 622.1,1327.9 622.1,1321.6 625.3,1321.6 625.3,1315.3 631.6,1315.3 631.6,1309"/>
<polygon fill="#0000fb" points="678.9,1309 678.9,1315.3 685.2,1315.3 685.2,1321.6 688.3,1321.6 688.3,1327.9 691.5,1327.9 691.5,1334.2 694.6,1334.2 694.6,1340.5 700.9,1340.5 700.9,1346.8 700.9,1346.8 700.9,1353.1 650.5,1353.1 650.5,1346.8 650.5,1346.8 650.5,1340.5 656.8,1340.5 656.8,1334.2 660,1334.2 660,1327.9 663.1,1327.9 663.1,1321.6 666.3,1321.6 666.3,1315.3 672.6,1315.3 672.6,1309"/>
<polygon fill="#0000fb" points="719.8,1309 719.8,1315.3 726.1,1315.3 726.1,1321.6 729.3,1321.6 729.3,1327.9 732.4,1327.9 732.4,1334.2 735.6,1334.2 735.6,1340.5 741.9,1340.5 741.9,1346.8 741.9,1346.8 741.9,1353.1 691.5,1353.1 691.5,1346.8 691.5,1346.8 691.5,1340.5 697.8,1340.5 697.8,1334.2 700.9,1334.2 700.9,1327.9 704.1,1327.9 704.1,1321.6 707.2,1321.6 707.2,1315.3 713.5,1315.3 713.5,1309"/>
<polygon fill="#0000fb" points="760.8,1309 760.8,1315.3 767.1,1315.3 767.1,1321.6 770.2,1321.6 770.2,1327.9 773.4,1327.9 773.4,1334.2 776.5,1334.2 776.5,1340.5 782.8,1340.5 782.8,1346.8 782.8,1346.8 782.8,1353.1 732.4,1353.1 732.4,1346.8 732.4,1346.8 732.4,1340.5 738.7,1340.5 738.7,1334.2 741.9,1334.2 741.9,1327.9 745,1327.9 745,1321.6 748.2,1321.6 748.2,1315.3 754.5,1315.3 754.5,1309"/>
<polygon fill="#0000fb" points="801.7,1309 801.7,1315.3 808,1315.3 808,1321.6 811.2,1321.6 811.2,1327.9 814.3,1327.9 814.3,1334.2 817.5,1334.2 817.5,1340.5 823.8,1340.5 823.8,1346.8 823.8,1346.8 823.8,1353.1 773.4,1353.1 773.4,1346.8 773.4,1346.8 773.4,1340.5 779.7,1340.5 779.7,1334.2 782.8,1334.2 782.8,1327.9 786,1327.9 786,1321.6 789.1,1321.6 789.1,1315.3 795.4,1315.3 795.4,1309"/>
<polygon fill="#0000fb" points="842.7,1290.9 842.7,1296.9 849,1296.9 849,1302.9 852.2,1302.9 852.2,1308.9 855.3,1308.9 855.3,1314.9 858.5,1314.9 858.5,1320.9 864.8,1320.9 864.8,1326.9 864.8,1326.9 864.8,1332.9 814.4,1332.9 814.4,1326.9 814.4,1326.9 814.4,1320.9 820.7,1320.9 820.7,1314.9 823.8,1314.9 823.8,1308.9 827,1308.9 827,1302.9 830.1,1302.9 830.1,1296.9 836.4,1296.9 836.4,1290.9"/>
<polygon fill="#0000fb" points="883.7,1253.2 883.7,1259.2 890,1259.2 890,1265.2 893.1,1265.2 893.1,1271.2 896.3,1271.2 896.3,1277.2 899.4,1277.2 899.4,1283.2 905.7,1283.2 905.7,1289.2 905.7,1289.2 905.7,1295.2 855.3,1295.2 855.3,1289.2 855.3,1289.2 855.3,1283.2 861.6,1283.2 861.6,1277.2 864.8,1277.2 864.8,1271.2 867.9,1271.2 867.9,1265.2 871.1,1265.2 871.1,1259.2 877.4,1259.2 877.4,1253.2"/>
<polygon fill="#0000fb" points="924.6,1197.4 924.6,1203.4 930.9,1203.4 930.9,1209.4 934.1,1209.4 934.1,1215.4 937.2,1215.4 937.2,1221.4 940.4,1221.4 940.4,1227.4 946.7,1227.4 946.7,1233.4 946.7,1233.4 946.7,1239.4 896.3,1239.4 896.3,1233.4 896.3,1233.4 896.3,1227.4 902.6,1227.4 902.6,1221.4 905.7,1221.4 905.7,1215.4 908.9,1215.4 908.9,1209.4 912,1209.4 912,1203.4 918.3,1203.4 918.3,1197.4"/>
<polygon fill="#0000fb" points="965.6,1140.7 965.6,1146.7 971.9,1146.7 971.9,1152.7 975,1152.7 975,1158.7 978.2,1158.7 978.2,1164.7 981.3,1164.7 981.3,1170.7 987.6,1170.7 987.6,1176.7 987.6,1176.7 987.6,1182.7 937.2,1182.7 937.2,1176.7 937.2,1176.7 937.2,1170.7 943.5,1170.7 943.5,1164.7 946.7,1164.7 946.7,1158.7 949.8,1158.7 949.8,1152.7 953,1152.7 953,1146.7 959.3,1146.7 959.3,1140.7"/>
<polygon fill="#0000fb" points="1006.6,1090.9 1006.6,1096.9 1012.9,1096.9 1012.9,1102.9 1016.1,1102.9 1016.1,1108.9 1019.2,1108.9 1019.2,1114.9 1022.4,1114.9 1022.4,1120.9 1028.7,1120.9 1028.7,1126.9 1028.7,1126.9 1028.7,1132.9 978.3,1132.9 978.3,1126.9 978.3,1126.9 978.3,1120.9 984.6,1120.9 984.6,1114.9 987.7,1114.9 987.7,1108.9 990.9,1108.9 990.9,1102.9 994,1102.9 994,1096.9 1000.3,1096.9 1000.3,1090.9"/>
<polygon fill="#0000fb" points="1047.6,1060 1047.6,1066 1053.9,1066 1053.9,1072 1057,1072 1057,1078 1060.2,1078 1060.2,1084 1063.3,1084 1063.3,1090 1069.6,1090 1069.6,1096 1069.6,1096 1069.6,1102 1019.2,1102 1019.2,1096 1019.2,1096 1019.2,1090 1025.5,1090 1025.5,1084 1028.7,1084 1028.7,1078 1031.8,1078 1031.8,1072 1035,1072 1035,1066 1041.3,1066 1041.3,1060"/>
<polygon fill="#0000fb" points="1088.5,1054 1088.5,1060 1094.8,1060 1094.8,1066 1097.9,1066 1097.9,1072 1101.1,1072 1101.1,1078 1104.2,1078 1104.2,1084 1110.5,1084 1110.5,1090 1110.5,1090 1110.5,1096 1060.1,1096 1060.1,1090 1060.1,1090 1060.1,1084 1066.4,1084 1066.4,1078 1069.6,1078 1069.6,1072 1072.7,1072 1072.7,1066 1075.9,1066 1075.9,1060 1082.2,1060 1082.2,1054"/>
<polygon fill="#0000fb" points="1129.5,1072.1 1129.5,1078.1 1135.8,1078.1 1135.8,1084.1 1138.9,1084.1 1138.9,1090.1 1142.1,1090.1 1142.1,1096.1 1145.2,1096.1 1145.2,1102.1 1151.5,1102.1 1151.5,1108.1 1151.5,1108.1 1151.5,1114.1 1101.1,1114.1 1101.1,1108.1 1101.1,1108.1 1101.1,1102.1 1107.4,1102.1 1107.4,1096.1 1110.6,1096.1 1110.6,1090.1 1113.7,1090.1 1113.7,1084.1 1116.9,1084.1 1116.9,1078.1 1123.2,1078.1 1123.2,1072.1"/>
<polygon fill="#0000fb" points="1170.4,1109.8 1170.4,1115.8 1176.7,1115.8 1176.7,1121.8 1179.9,1121.8 1179.9,1127.8 1183,1127.8 1183,1133.8 1186.2,1133.8 1186.2,1139.8 1192.5,1139.8 1192.5,1145.8 1192.5,1145.8 1192.5,1151.8 1142.1,1151.8 1142.1,1145.8 1142.1,1145.8 1142.1,1139.8 1148.4,1139.8 1148.4,1133.8 1151.5,1133.8 1151.5,1127.8 1154.7,1127.8 1154.7,1121.8 1157.8,1121.8 1157.8,1115.8 1164.1,1115.8 1164.1,1109.8"/>
<polygon fill="#0000fb" points="1211.4,1153.6 1211.4,1159.6 1217.7,1159.6 1217.7,1165.6 1220.8,1165.6 1220.8,1171.6 1224,1171.6 1224,1177.6 1227.1,1177.6 1227.1,1183.6 1233.4,1183.6 1233.4,1189.6 1233.4,1189.6 1233.4,1195.6 1183,1195.6 1183,1189.6 1183,1189.6 1183,1183.6 1189.3,1183.6 1189.3,1177.6 1192.5,1177.6 1192.5,1171.6 1195.6,1171.6 1195.6,1165.6 1198.8,1165.6 1198.8,1159.6 1205.1,1159.6 1205.1,1153.6"/>
<polygon fill="#0000fb" points="1252.4,1197.4 1252.4,1203.4 1258.7,1203.4 1258.7,1209.4 1261.8,1209.4 1261.8,1215.4 1265,1215.4 1265,1221.4 1268.1,1221.4 1268.1,1227.4 1274.4,1227.4 1274.4,1233.4 1274.4,1233.4 1274.4,1239.4 1224,1239.4 1224,1233.4 1224,1233.4 1224,1227.4 1230.3,1227.4 1230.3,1221.4 1233.5,1221.4 1233.5,1215.4 1236.6,1215.4 1236.6,1209.4 1239.8,1209.4 1239.8,1203.4 1246.1,1203.4 1246.1,1197.4"/>
<polygon fill="#0000fb" points="1293.4,1235.1 1293.4,1241.1 1299.7,1241.1 1299.7,1247.1 1302.8,1247.1 1302.8,1253.1 1306,1253.1 1306,1259.1 1309.1,1259.1 1309.1,1265.1 1315.4,1265.1 1315.4,1271.1 1315.4,1271.1 1315.4,1277.1 1265,1277.1 1265,1271.1 1265,1271.1 1265,1265.1 1271.3,1265.1 1271.3,1259.1 1274.5,1259.1 1274.5,1253.1 1277.6,1253.1 1277.6,1247.1 1280.8,1247.1 1280.8,1241.1 1287.1,1241.1 1287.1,1235.1"/>
<polygon fill="#0000fb" points="1334.3,1253.2 1334.3,1259.2 1340.6,1259.2 1340.6,1265.2 1343.8,1265.2 1343.8,1271.2 1346.9,1271.2 1346.9,1277.2 1350.1,1277.2 1350.1,1283.2 1356.4,1283.2 1356.4,1289.2 1356.4,1289.2 1356.4,1295.2 1306,1295.2 1306,1289.2 1306,1289.2 1306,1283.2 1312.3,1283.2 1312.3,1277.2 1315.4,1277.2 1315.4,1271.2 1318.6,1271.2 1318.6,1265.2 1321.7,1265.2 1321.7,1259.2 1328,1259.2 1328,1253.2"/>
<polygon fill="#0000fb" points="1375.3,1253.2 1375.3,1259.2 1381.6,1259.2 1381.6,1265.2 1384.7,1265.2 1384.7,1271.2 1387.9,1271.2 1387.9,1277.2 1391,1277.2 1391,1283.2 1397.3,1283.2 1397.3,1289.2 1397.3,1289.2 1397.3,1295.2 1346.9,1295.2 1346.9,1289.2 1346.9,1289.2 1346.9,1283.2 1353.2,1283.2 1353.2,1277.2 1356.4,1277.2 1356.4,1271.2 1359.5,1271.2 1359.5,1265.2 1362.7,1265.2 1362.7,1259.2 1369,1259.2 1369,1253.2"/>
<polygon fill="#0000fb" points="1416.2,1247.2 1416.2,1253.2 1422.5,1253.2 1422.5,1259.2 1425.7,1259.2 1425.7,1265.2 1428.8,1265.2 1428.8,1271.2 1432,1271.2 1432,1277.2 1438.3,1277.2 1438.3,1283.2 1438.3,1283.2 1438.3,1289.2 1387.9,1289.2 1387.9,1283.2 1387.9,1283.2 1387.9,1277.2 1394.2,1277.2 1394.2,1271.2 1397.3,1271.2 1397.3,1265.2 1400.5,1265.2 1400.5,1259.2 1403.6,1259.2 1403.6,1253.2 1409.9,1253.2 1409.9,1247.2"/>
<polygon fill="#0000fb" points="1457.2,1215.8 1457.2,1221.8 1463.5,1221.8 1463.5,1227.8 1466.6,1227.8 1466.6,1233.8 1469.8,1233.8 1469.8,1239.8 1472.9,1239.8 1472.9,1245.8 1479.2,1245.8 1479.2,1251.8 1479.2,1251.8 1479.2,1257.8 1428.8,1257.8 1428.8,1251.8 1428.8,1251.8 1428.8,1245.8 1435.1,1245.8 1435.1,1239.8 1438.3,1239.8 1438.3,1233.8 1441.4,1233.8 1441.4,1227.8 1444.6,1227.8 1444.6,1221.8 1450.9,1221.8 1450.9,1215.8"/>
<polygon fill="#0000fb" points="1498.2,1222.3 1498.2,1228.3 1504.5,1228.3 1504.5,1234.3 1507.6,1234.3 1507.6,1240.3 1510.8,1240.3 1510.8,1246.3 1513.9,1246.3 1513.9,1252.3 1520.2,1252.3 1520.2,1258.3 1520.2,1258.3 1520.2,1264.3 1469.8,1264.3 1469.8,1258.3 1469.8,1258.3 1469.8,1252.3 1476.1,1252.3 1476.1,1246.3 1479.3,1246.3 1479.3,1240.3 1482.4,1240.3 1482.4,1234.3 1485.6,1234.3 1485.6,1228.3 1491.9,1228.3 1491.9,1222.3"/>
<polygon fill="#0000fb" points="1539.1,1152.8 1539.1,1158.8 1545.4,1158.8 1545.4,1164.8 1548.6,1164.8 1548.6,1170.8 1551.7,1170.8 1551.7,1176.8 1554.9,1176.8 1554.9,1182.8 1561.2,1182.8 1561.2,1188.8 1561.2,1188.8 1561.2,1194.8 1510.8,1194.8 1510.8,1188.8 1510.8,1188.8 1510.8,1182.8 1517.1,1182.8 1517.1,1176.8 1520.2,1176.8 1520.2,1170.8 1523.4,1170.8 1523.4,1164.8 1526.5,1164.8 1526.5,1158.8 1532.8,1158.8 1532.8,1152.8"/>
<polygon fill="#0000fb" points="1580,1141.5 1580,1147.5 1586.3,1147.5 1586.3,1153.5 1589.4,1153.5 1589.4,1159.5 1592.6,1159.5 1592.6,1165.5 1595.7,1165.5 1595.7,1171.5 1602,1171.5 1602,1177.5 1602,1177.5 1602,1183.5 1551.6,1183.5 1551.6,1177.5 1551.6,1177.5 1551.6,1171.5 1557.9,1171.5 1557.9,1165.5 1561.1,1165.5 1561.1,1159.5 1564.2,1159.5 1564.2,1153.5 1567.4,1153.5 1567.4,1147.5 1573.7,1147.5 1573.7,1141.5"/>
<polygon fill="#0000fb" points="1621,1135.1 1621,1141.1 1627.3,1141.1 1627.3,1147.1 1630.4,1147.1 1630.4,1153.1 1633.6,1153.1 1633.6,1159.1 1636.7,1159.1 1636.7,1165.1 1643,1165.1 1643,1171.1 1643,1171.1 1643,1177.1 1592.6,1177.1 1592.6,1171.1 1592.6,1171.1 1592.6,1165.1 1598.9,1165.1 1598.9,1159.1 1602.1,1159.1 1602.1,1153.1 1605.2,1153.1 1605.2,1147.1 1608.4,1147.1 1608.4,1141.1 1614.7,1141.1 1614.7,1135.1"/>
<polygon fill="#0000fb" points="1662,1135.1 1662,1141.1 1668.3,1141.1 1668.3,1147.1 1671.5,1147.1 1671.5,1153.1 1674.6,1153.1 1674.6,1159.1 1677.8,1159.1 1677.8,1165.1 1684.1,1165.1 1684.1,1171.1 1684.1,1171.1 1684.1,1177.1 1633.7,1177.1 1633.7,1171.1 1633.7,1171.1 1633.7,1165.1 1640,1165.1 1640,1159.1 1643.1,1159.1 1643.1,1153.1 1646.3,1153.1 1646.3,1147.1 1649.4,1147.1 1649.4,1141.1 1655.7,1141.1 1655.7,1135.1"/>
<polygon fill="#0000fb" points="1702.9,1152.8 1702.9,1158.8 1709.2,1158.8 1709.2,1164.8 1712.3,1164.8 1712.3,1170.8 1715.5,1170.8 1715.5,1176.8 1718.6,1176.8 1718.6,1182.8 1724.9,1182.8 1724.9,1188.8 1724.9,1188.8 1724.9,1194.8 1674.5,1194.8 1674.5,1188.8 1674.5,1188.8 1674.5,1182.8 1680.8,1182.8 1680.8,1176.8 1684,1176.8 1684,1170.8 1687.1,1170.8 1687.1,1164.8 1690.3,1164.8 1690.3,1158.8 1696.6,1158.8 1696.6,1152.8"/>
<polygon fill="#0000fb" points="1743.9,1178.1 1743.9,1184.1 1750.2,1184.1 1750.2,1190.1 1753.4,1190.1 1753.4,1196.1 1756.5,1196.1 1756.5,1202.1 1759.7,1202.1 1759.7,1208.1 1766,1208.1 1766,1214.1 1766,1214.1 1766,1220.1 1715.6,1220.1 1715.6,1214.1 1715.6,1214.1 1715.6,1208.1 1721.9,1208.1 1721.9,1202.1 1725,1202.1 1725,1196.1 1728.2,1196.1 1728.2,1190.1 1731.3,1190.1 1731.3,1184.1 1737.6,1184.1 1737.6,1178.1"/>
<polygon fill="#0000fb" points="1784.9,1197 1784.9,1203 1791.2,1203 1791.2,1209 1794.4,1209 1794.4,1215 1797.5,1215 1797.5,1221 1800.7,1221 1800.7,1227 1807,1227 1807,1233 1807,1233 1807,1239 1756.6,1239 1756.6,1233 1756.6,1233 1756.6,1227 1762.9,1227 1762.9,1221 1766,1221 1766,1215 1769.2,1215 1769.2,1209 1772.3,1209 1772.3,1203 1778.6,1203 1778.6,1197"/>
<polygon fill="#0000fb" points="1825.9,1221.9 1825.9,1227.9 1832.2,1227.9 1832.2,1233.9 1835.3,1233.9 1835.3,1239.9 1838.5,1239.9 1838.5,1245.9 1841.6,1245.9 1841.6,1251.9 1847.9,1251.9 1847.9,1257.9 1847.9,1257.9 1847.9,1263.9 1797.5,1263.9 1797.5,1257.9 1797.5,1257.9 1797.5,1251.9 1803.8,1251.9 1803.8,1245.9 1807,1245.9 1807,1239.9 1810.1,1239.9 1810.1,1233.9 1813.3,1233.9 1813.3,1227.9 1819.6,1227.9 1819.6,1221.9"/>
<polygon fill="#0000fb" points="1866.8,1227.9 1866.8,1233.9 1873.1,1233.9 1873.1,1239.9 1876.3,1239.9 1876.3,1245.9 1879.4,1245.9 1879.4,1251.9 1882.6,1251.9 1882.6,1257.9 1888.9,1257.9 1888.9,1263.9 1888.9,1263.9 1888.9,1269.9 1838.5,1269.9 1838.5,1263.9 1838.5,1263.9 1838.5,1257.9 1844.8,1257.9 1844.8,1251.9 1847.9,1251.9 1847.9,1245.9 1851.1,1245.9 1851.1,1239.9 1854.2,1239.9 1854.2,1233.9 1860.5,1233.9 1860.5,1227.9"/>
<polygon fill="#0000fb" points="1907.8,1227.9 1907.8,1233.9 1914.1,1233.9 1914.1,1239.9 1917.3,1239.9 1917.3,1245.9 1920.4,1245.9 1920.4,1251.9 1923.6,1251.9 1923.6,1257.9 1929.9,1257.9 1929.9,1263.9 1929.9,1263.9 1929.9,1269.9 1879.5,1269.9 1879.5,1263.9 1879.5,1263.9 1879.5,1257.9 1885.8,1257.9 1885.8,1251.9 1888.9,1251.9 1888.9,1245.9 1892.1,1245.9 1892.1,1239.9 1895.2,1239.9 1895.2,1233.9 1901.5,1233.9 1901.5,1227.9"/>
<polygon fill="#0000fb" points="1948.7,1215.8 1948.7,1221.8 1955,1221.8 1955,1227.8 1958.2,1227.8 1958.2,1233.8 1961.3,1233.8 1961.3,1239.8 1964.5,1239.8 1964.5,1245.8 1970.8,1245.8 1970.8,1251.8 1970.8,1251.8 1970.8,1257.8 1920.4,1257.8 1920.4,1251.8 1920.4,1251.8 1920.4,1245.8 1926.7,1245.8 1926.7,1239.8 1929.8,1239.8 1929.8,1233.8 1933,1233.8 1933,1227.8 1936.1,1227.8 1936.1,1221.8 1942.4,1221.8 1942.4,1215.8"/>
<polygon fill="#0000fb" points="1989.7,1197 1989.7,1203 1996,1203 1996,1209 1999.2,1209 1999.2,1215 2002.3,1215 2002.3,1221 2005.5,1221 2005.5,1227 2011.8,1227 2011.8,1233 2011.8,1233 2011.8,1239 1961.4,1239 1961.4,1233 1961.4,1233 1961.4,1227 1967.7,1227 1967.7,1221 1970.8,1221 1970.8,1215 1974,1215 1974,1209 1977.1,1209 1977.1,1203 1983.4,1203 1983.4,1197"/>
<polygon fill="#0000fb" points="2030.7,1178.1 2030.7,1184.1 2037,1184.1 2037,1190.1 2040.2,1190.1 2040.2,1196.1 2043.3,1196.1 2043.3,1202.1 2046.5,1202.1 2046.5,1208.1 2052.8,1208.1 2052.8,1214.1 2052.8,1214.1 2052.8,1220.1 2002.4,1220.1 2002.4,1214.1 2002.4,1214.1 2002.4,1208.1 2008.7,1208.1 2008.7,1202.1 2011.8,1202.1 2011.8,1196.1 2015,1196.1 2015,1190.1 2018.1,1190.1 2018.1,1184.1 2024.4,1184.1 2024.4,1178.1"/>
<polygon fill="#0000fb" points="2065.7,1303 2065.7,1309.3 2072,1309.3 2072,1315.6 2075.1,1315.6 2075.1,1321.9 2078.3,1321.9 2078.3,1328.2 2081.4,1328.2 2081.4,1334.5 2087.7,1334.5 2087.7,1340.8 2087.7,1340.8 2087.7,1347.1 2087.7,1347.1 2087.7,1353.4 2037.3,1353.4 2037.3,1347.1 2037.3,1347.1 2037.3,1340.8 2037.3,1340.8 2037.3,1334.5 2043.6,1334.5 2043.6,1328.2 2046.8,1328.2 2046.8,1321.9 2049.9,1321.9 2049.9,1315.6 2053.1,1315.6 2053.1,1309.3 2059.4,1309.3 2059.4,1303"/>
<polygon fill="#0000fb" points="2114.1,1309 2114.1,1315.3 2120.4,1315.3 2120.4,1321.6 2123.6,1321.6 2123.6,1327.9 2126.7,1327.9 2126.7,1334.2 2129.9,1334.2 2129.9,1340.5 2136.2,1340.5 2136.2,1346.8 2136.2,1346.8 2136.2,1353.1 2085.8,1353.1 2085.8,1346.8 2085.8,1346.8 2085.8,1340.5 2092.1,1340.5 2092.1,1334.2 2095.2,1334.2 2095.2,1327.9 2098.4,1327.9 2098.4,1321.6 2101.5,1321.6 2101.5,1315.3 2107.8,1315.3 2107.8,1309"/>
<polygon fill="#0000fb" points="2158.6,1309 2158.6,1315.3 2164.9,1315.3 2164.9,1321.6 2168,1321.6 2168,1327.9 2171.2,1327.9 2171.2,1334.2 2174.3,1334.2 2174.3,1340.5 2180.6,1340.5 2180.6,1346.8 2180.6,1346.8 2180.6,1353.1 2130.2,1353.1 2130.2,1346.8 2130.2,1346.8 2130.2,1340.5 2136.5,1340.5 2136.5,1334.2 2139.7,1334.2 2139.7,1327.9 2142.8,1327.9 2142.8,1321.6 2146,1321.6 2146,1315.3 2152.3,1315.3 2152.3,1309"/>
</g>
<text class="g" x="140" y="149">30</text>
<text class="g" x="140" y="548">20</text>
<text class="g" x="140" y="947.5">10</text>
<text class="g" x="178.5" y="1347">0</text>
<text class="g" x="226.5" y="1521.5">10</text>
<text class="k" x="840" y="1553" textLength="112.5" lengthAdjust="spacing" fill="#ffcf8f">100</text>
<text class="k" x="852" y="1553" textLength="112.5" lengthAdjust="spacing" fill="#6cb6f7">100</text>
<text class="k" x="846" y="1553" textLength="112.5" lengthAdjust="spacing" fill="#160004">100</text>
<text class="k" x="1458" y="1553" textLength="166" lengthAdjust="spacing" fill="#ffcf8f">1,000</text>
<text class="k" x="1470" y="1553" textLength="166" lengthAdjust="spacing" fill="#6cb6f7">1,000</text>
<text class="k" x="1464" y="1553" textLength="166" lengthAdjust="spacing" fill="#160004">1,000</text>
<text class="k" x="2058.5" y="1553" textLength="203.5" lengthAdjust="spacing" fill="#ffcf8f">10,000</text>
<text class="k" x="2070.5" y="1553" textLength="203.5" lengthAdjust="spacing" fill="#6cb6f7">10,000</text>
<text class="k" x="2064.5" y="1553" textLength="203.5" lengthAdjust="spacing" fill="#160004">10,000</text>
<text class="k" x="1390 1432 1450 1487 1529 1547 1575 1621 1686" y="1728" fill="#ffcf8f">Size (nm)</text>
<text class="k" x="1402 1444 1462 1499 1541 1559 1587 1633 1698" y="1728" fill="#6cb6f7">Size (nm)</text>
<text class="k" x="1396 1438 1456 1493 1535 1553 1581 1627 1692" y="1728" fill="#160004">Size (nm)</text>
<text transform="translate(91.5 985) rotate(-90) scale(1 1.05)" font-size="82" fill="#0b0608" x="-2 61.7 106.8 175.7 223 268 300 324.6">Number %</text>
<rect x="344" y="414" width="618" height="256" fill="#fff" stroke="#000" stroke-width="6.2" shape-rendering="crispEdges"/>
<g shape-rendering="crispEdges">
<rect x="391" y="466.5" width="162" height="6.4" fill="#000"/>
<rect x="453" y="448" width="38" height="31" fill="#000"/>
<rect x="391" y="548" width="162" height="6.4" fill="#fb0000"/>
<polygon fill="#fb0000" points="466,529 478,529 478,536 485,536 485,542.6 491,542.6 491,554.4 478,554.4 478,561 466,561 466,554.4 453,554.4 453,536 466,536"/>
<rect x="391" y="629" width="162" height="6.4" fill="#0000fb"/>
<polygon fill="#0000fb" points="478.1,604 478.1,610.4 484.4,610.4 484.4,616.7 490.8,616.7 490.8,623.1 490.8,623.1 490.8,629.4 503.4,629.4 503.4,635.8 503.4,635.8 503.4,642.1 446.6,642.1 446.6,635.8 446.6,635.8 446.6,629.4 459.2,629.4 459.2,623.1 459.2,623.1 459.2,616.7 465.6,616.7 465.6,610.4 471.9,610.4 471.9,604"/>
</g>
<text class="k" x="569" y="486" textLength="82" lengthAdjust="spacing" fill="#ffcf8f">Zn</text>
<text class="k" x="581" y="486" textLength="82" lengthAdjust="spacing" fill="#6cb6f7">Zn</text>
<text class="k" x="575" y="486" textLength="82" lengthAdjust="spacing" fill="#160004">Zn</text>
<text class="k" x="569" y="572" textLength="202" lengthAdjust="spacing" fill="#ffcf8f">LV-Zn</text>
<text class="k" x="581" y="572" textLength="202" lengthAdjust="spacing" fill="#6cb6f7">LV-Zn</text>
<text class="k" x="575" y="572" textLength="202" lengthAdjust="spacing" fill="#160004">LV-Zn</text>
<text class="k" x="569" y="660" textLength="252" lengthAdjust="spacing" fill="#ffcf8f">LVC-Zn</text>
<text class="k" x="581" y="660" textLength="252" lengthAdjust="spacing" fill="#6cb6f7">LVC-Zn</text>
<text class="k" x="575" y="660" textLength="252" lengthAdjust="spacing" fill="#160004">LVC-Zn</text>
</svg></body></html>
